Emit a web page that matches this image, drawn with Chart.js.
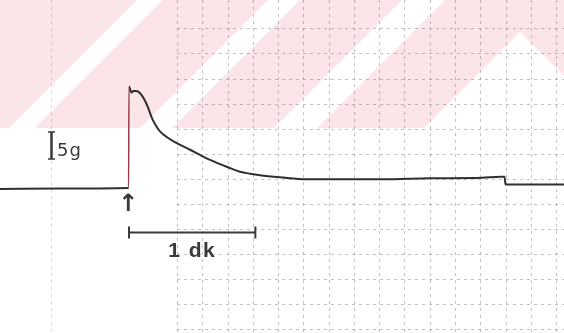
<!DOCTYPE html>
<html>
<head>
<meta charset="utf-8">
<script src="https://cdn.jsdelivr.net/npm/chart.js@4.4.1/dist/chart.umd.min.js"></script>
<style>
  html, body { margin: 0; padding: 0; background: #fff; }
  canvas { display: block; }
</style>
</head>
<body>
<canvas id="twitchChart" width="564" height="333"></canvas>
<script>
// isometric twitch: time after stimulus (s) and developed tension (g)
const timeSec = [-61.25, -32.8, -0.2, 0, 1.2, 2.1, 3.1, 4.4, 6.0, 7.6, 9.2, 10.8, 12.4, 14.7, 17.9,
    21.8, 29.0, 38.5, 48.0, 52.7, 57.5, 62.2, 71.7, 84.4, 100.2, 120.1, 142.9, 167.6,
    176.2, 178.3, 178.8, 206.55];
const forceG = [-0.2, -0.1, 0, 19.9, 18.7, 19.0, 19.0, 18.9, 18.2, 17.1, 15.6, 13.8, 12.5, 11.1, 10.0,
    9.0, 7.5, 5.5, 3.9, 3.2, 2.8, 2.5, 2.1, 1.7, 1.7, 1.7, 1.9, 2.0,
    2.2, 2.2, 0.7, 0.7];

// calibration bars
const timeBarSec = [0, 60];
const timeBarLabel = '1 dk';
const forceBarG = [5.7, 11.0];
const forceBarLabel = '5g';

// recorder paper
const gridStepSec = 12;
const firstGridSec = 22.8;
const gridStepG = 4.92;
const topGridG = 31.3;

// pink stamp on the paper (canvas px)
const stampBands = [
    [[0, 0], [137, 0], [9, 128], [0, 128]],
    [[163, 0], [268, 0], [140, 128], [35, 128]],
    [[300, 0], [402, 0], [274, 128], [172, 128]],
    [[445, 0], [564, 0], [564, 76], [520, 32], [424, 128], [317, 128]]
];

const riseIndex = 2;

const paperPlugin = {
    id: 'paper',
    beforeDraw(chart) {
        const ctx = chart.ctx;
        const xs = chart.scales.x;
        const ys = chart.scales.y;
        ctx.save();
        ctx.fillStyle = '#fff';
        ctx.fillRect(0, 0, chart.width, chart.height);

        ctx.fillStyle = '#fce5e9';
        stampBands.forEach(poly => {
            ctx.beginPath();
            poly.forEach(([x, y], i) => i ? ctx.lineTo(x, y) : ctx.moveTo(x, y));
            ctx.closePath();
            ctx.fill();
        });

        ctx.strokeStyle = 'rgba(95, 95, 95, 0.38)';
        ctx.lineWidth = 1;
        ctx.setLineDash([3, 4]);
        const vline = t => {
            const px = Math.round(xs.getPixelForValue(t)) + 0.5;
            ctx.beginPath();
            ctx.moveTo(px, 0);
            ctx.lineTo(px, chart.height);
            ctx.stroke();
        };
        for (let t = firstGridSec; t <= xs.max; t += gridStepSec) vline(t);

        const left = Math.round(xs.getPixelForValue(firstGridSec));
        for (let g = topGridG; g >= ys.min; g -= gridStepG) {
            const py = Math.round(ys.getPixelForValue(g)) + 0.5;
            ctx.beginPath();
            ctx.moveTo(left, py);
            ctx.lineTo(chart.width, py);
            ctx.stroke();
        }

        // one stray ruling far left, fainter
        ctx.strokeStyle = 'rgba(95, 95, 95, 0.25)';
        vline(firstGridSec - 5 * gridStepSec);
        ctx.restore();
    }
};

const markingsPlugin = {
    id: 'markings',
    afterDatasetsDraw(chart) {
        const ctx = chart.ctx;
        const xs = chart.scales.x;
        const ys = chart.scales.y;
        ctx.save();
        ctx.strokeStyle = '#3a3a3a';
        ctx.fillStyle = '#3a3a3a';

        // 5 g bar
        const fx = Math.round(xs.getPixelForValue(-37.0)) + 0.5;
        const fTop = ys.getPixelForValue(forceBarG[1]);
        const fBot = ys.getPixelForValue(forceBarG[0]);
        ctx.lineWidth = 2.5;
        ctx.beginPath();
        ctx.moveTo(fx, fTop); ctx.lineTo(fx, fBot);
        ctx.stroke();
        ctx.lineWidth = 1.5;
        ctx.beginPath();
        ctx.moveTo(fx - 3.5, fTop); ctx.lineTo(fx + 3.5, fTop);
        ctx.moveTo(fx - 3.5, fBot); ctx.lineTo(fx + 3.5, fBot);
        ctx.stroke();
        ctx.font = '18px "DejaVu Sans"';
        ctx.letterSpacing = '1px';
        ctx.textBaseline = 'alphabetic';
        ctx.textAlign = 'left';
        ctx.fillText(forceBarLabel, xs.getPixelForValue(-34.2), ys.getPixelForValue(6.27));
        ctx.letterSpacing = '0px';

        // stimulus arrow
        ctx.font = 'bold 24px "DejaVu Sans"';
        ctx.textAlign = 'center';
        ctx.textBaseline = 'middle';
        ctx.fillText('\u2191', xs.getPixelForValue(-0.5), ys.getPixelForValue(-3.3));

        // 1 min bar
        const ty = Math.round(ys.getPixelForValue(-8.63)) + 0.5;
        const tx0 = xs.getPixelForValue(timeBarSec[0]);
        const tx1 = xs.getPixelForValue(timeBarSec[1]);
        ctx.lineWidth = 2;
        ctx.beginPath();
        ctx.moveTo(tx0, ty); ctx.lineTo(tx1, ty);
        ctx.moveTo(tx0, ty - 6); ctx.lineTo(tx0, ty + 6);
        ctx.moveTo(tx1, ty - 6); ctx.lineTo(tx1, ty + 6);
        ctx.stroke();
        ctx.font = 'bold 21px "Liberation Sans"';
        ctx.textBaseline = 'alphabetic';
        ctx.letterSpacing = '1.5px';
        ctx.fillText(timeBarLabel, xs.getPixelForValue(30), ys.getPixelForValue(-13.6));
        ctx.restore();
    }
};

const twitchCtx = document.getElementById('twitchChart').getContext('2d');

const twitchChart = new Chart(twitchCtx, {
    type: 'line',
    data: {
        datasets: [{
            data: timeSec.map((t, i) => ({ x: t, y: forceG[i] })),
            borderColor: '#2f2f2f',
            borderWidth: 2,
            pointRadius: 0,
            fill: false,
            cubicInterpolationMode: 'monotone',
            segment: {
                borderColor: c => c.p0DataIndex === riseIndex ? '#9b3a4a' : undefined,
                borderWidth: c => c.p0DataIndex === riseIndex ? 1.5 : undefined
            }
        }]
    },
    options: {
        responsive: false,
        animation: false,
        devicePixelRatio: 1,
        layout: { padding: 0 },
        scales: {
            x: { type: 'linear', min: -61.25, max: 206.55, display: false },
            y: { min: -28.43, max: 36.86, display: false }
        },
        plugins: {
            legend: { display: false },
            tooltip: { enabled: false }
        }
    },
    plugins: [paperPlugin, markingsPlugin]
});
</script>
</body>
</html>
